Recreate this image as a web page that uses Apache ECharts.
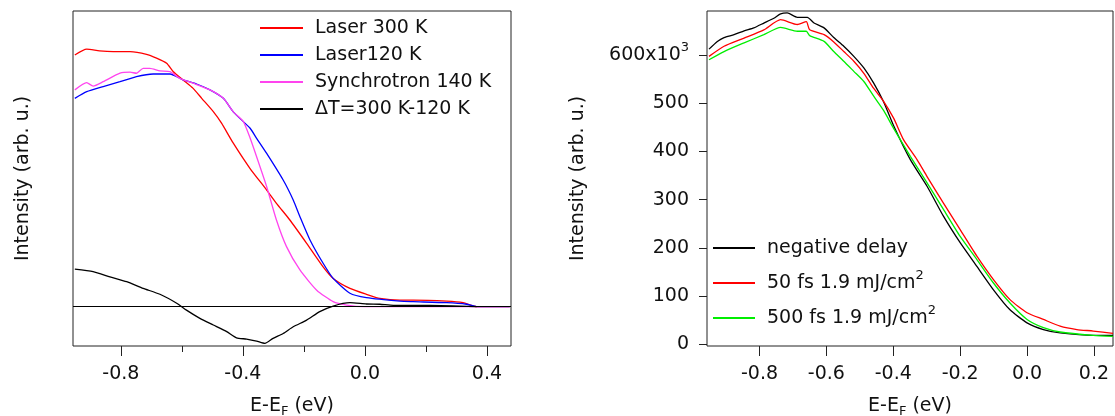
<!DOCTYPE html>
<html><head><meta charset="utf-8">
<script src="https://cdn.jsdelivr.net/npm/echarts@6/dist/echarts.min.js"></script>
<style>html,body{margin:0;padding:0;background:#fff}#c{width:1115px;height:416px}</style>
</head><body><div id="c"></div>
<script>
// ---------- Left panel data (E-EF in eV, intensity arb. u.) ----------
const laser300X = [-0.951,-0.912,-0.87,-0.825,-0.77,-0.716,-0.683,-0.65,-0.628,-0.596,-0.563,-0.535,-0.497,-0.47,-0.432,-0.377,-0.322,-0.29,-0.246,-0.191,-0.137,-0.104,-0.049,0.005,0.049,0.115,0.158,0.268,0.322,0.366,0.475];
const laser300Y = [98.2,100.5,99.8,99.5,99.5,98.5,97.0,95.0,91.7,88.5,85.2,81.3,76.1,71.6,63.9,54.0,45.5,40.3,33.8,24.7,15.5,11.0,7.1,4.8,3.2,2.5,2.5,2.1,1.5,0,0];
const laser120X = [-0.951,-0.912,-0.858,-0.803,-0.749,-0.694,-0.639,-0.596,-0.552,-0.508,-0.464,-0.43,-0.377,-0.355,-0.322,-0.268,-0.235,-0.213,-0.18,-0.137,-0.104,-0.049,0.005,0.115,0.158,0.268,0.333,0.366,0.475];
const laser120Y = [81.3,83.9,85.9,87.8,89.8,90.8,90.8,88.5,86.9,84.6,81.3,75.8,69.7,65.7,59.8,49.4,41.6,35.1,26.0,16.9,11.0,5.2,3.5,2.1,1.9,1.5,0.9,0,0];
const synchX = [-0.951,-0.912,-0.891,-0.858,-0.803,-0.77,-0.749,-0.727,-0.705,-0.672,-0.639,-0.607,-0.563,-0.508,-0.464,-0.432,-0.399,-0.377,-0.355,-0.322,-0.29,-0.257,-0.213,-0.158,-0.104,-0.06,0.0,0.475];
const synchY = [84.6,87.4,86.1,87.8,91.1,91.5,91.1,93.0,93.0,92.0,91.7,89.1,87.2,84.6,81.3,76.1,72.3,66.0,58.5,46.8,33.8,23.4,14.3,6.4,1.9,0.6,0,0];
const deltaX = [-0.951,-0.891,-0.836,-0.781,-0.727,-0.672,-0.617,-0.585,-0.541,-0.497,-0.453,-0.421,-0.388,-0.355,-0.328,-0.301,-0.268,-0.235,-0.191,-0.148,-0.104,-0.049,0.005,0.049,0.093,0.213,0.366];
const deltaY = [14.6,13.6,11.6,9.7,7.1,4.8,1.3,-1.4,-4.6,-7.2,-9.8,-12.2,-12.7,-13.5,-14.4,-12.4,-10.5,-7.9,-5.3,-2.0,0.2,1.5,1.0,0.9,0.5,0.5,0];

// ---------- Right panel data (intensity x10^3) ----------
const negX = [-0.951,-0.926,-0.906,-0.876,-0.846,-0.817,-0.787,-0.757,-0.737,-0.717,-0.687,-0.657,-0.637,-0.607,-0.578,-0.548,-0.518,-0.488,-0.459,-0.429,-0.4,-0.349,-0.299,-0.25,-0.2,-0.15,-0.101,-0.051,0,0.049,0.099,0.198,0.257];
const negY = [612,628,636,642,650,656,666,676,685,687,678,678,666,656,636,618,597,573,542,503,455,383,328,266,211,162,114,72,45,31,24,19,19];
const fs50X = [-0.951,-0.906,-0.846,-0.787,-0.737,-0.687,-0.66,-0.65,-0.607,-0.578,-0.548,-0.518,-0.488,-0.459,-0.429,-0.399,-0.369,-0.329,-0.299,-0.25,-0.2,-0.15,-0.101,-0.051,0,0.049,0.099,0.149,0.198,0.257];
const fs50Y = [597,618,635,652,673,663,669,652,642,627,607,587,562,531,504,469,424,383,348,293,238,183,135,93,66,52,38,31,28,23];
const fs500X = [-0.951,-0.906,-0.846,-0.787,-0.737,-0.687,-0.66,-0.65,-0.607,-0.578,-0.548,-0.518,-0.488,-0.459,-0.429,-0.399,-0.349,-0.299,-0.25,-0.2,-0.15,-0.101,-0.051,0,0.049,0.099,0.198,0.257];
const fs500Y = [590,607,625,642,657,649,649,640,628,607,587,566,545,515,485,448,390,335,280,224,176,128,86,52,35,26,19,17];

// ---------- Axis ticks ----------
const leftMajorTicks = [-0.8,-0.4,0.0,0.4];
const leftMinorTicks = [-0.6,-0.2,0.2];
const rightXTicks = [-0.8,-0.6,-0.4,-0.2,0.0,0.2];
const rightYTicks = [0,100,200,300,400,500,600];

const names = ['Laser 300 K','Laser120 K','Synchrotron 140 K','\u0394T=300 K-120 K'];
const names2 = ['negative delay','50 fs 1.9 mJ/cm\u00b2','500 fs 1.9 mJ/cm\u00b2'];

const FONT = 'DejaVu Sans';
const TXT = '#111';
const FS = 19;
function zip(xs, ys){ return xs.map((x,i)=>[x, ys[i]]); }
const chart = echarts.init(document.getElementById('c'));

function lineSeries(name, xs, ys, color, xi){
  return {name, type:'line', xAxisIndex:xi, yAxisIndex:xi, data:zip(xs,ys), showSymbol:false, smooth:0.2,
    color, lineStyle:{color, width:1.3}, animation:false, z:3};
}
const xName = {fontSize:FS, fontFamily:FONT, color:TXT, rich:{sub:{fontSize:13, fontFamily:FONT, color:TXT, padding:[10,0,0,0]}}};
const yName = {fontSize:FS, fontFamily:FONT, color:TXT};
const tickStyle = {color:'#222', width:1};
const noLine = {show:false, onZero:false};

const delta = lineSeries(names[3], deltaX, deltaY, '#000', 0);
delta.markLine = {silent:true, symbol:['none','none'], label:{show:false}, animation:false,
  lineStyle:{color:'#000', width:1, type:'solid'}, data:[{yAxis:0}]};

const gridBase = {containLabel:false, outerBoundsMode:'none'};
chart.setOption({
  animation:false,
  backgroundColor:'#fff',
  grid:[
    Object.assign({left:73, top:11, width:438, height:335, show:true, borderColor:'#222', borderWidth:1, backgroundColor:'transparent'}, gridBase),
    Object.assign({left:707, top:11, width:406, height:335, show:true, borderColor:'#222', borderWidth:1, backgroundColor:'transparent'}, gridBase),
    Object.assign({left:73, top:11, width:438, height:335}, gridBase)
  ],
  xAxis:[
    {gridIndex:0, type:'value', min:-0.957, max:0.479, axisLine:noLine, splitLine:{show:false},
     axisTick:{show:true, length:10, customValues:leftMajorTicks, lineStyle:tickStyle},
     axisLabel:{customValues:leftMajorTicks, formatter:v=>v.toFixed(1), margin:19, fontSize:FS, fontFamily:FONT, color:TXT},
     name:'E-E{sub|F} (eV)', nameLocation:'middle', nameGap:49, nameTextStyle:xName},
    {gridIndex:1, type:'value', min:-0.957, max:0.257, axisLine:noLine, splitLine:{show:false},
     axisTick:{show:true, length:10, customValues:rightXTicks, lineStyle:tickStyle},
     axisLabel:{customValues:rightXTicks, formatter:v=>v.toFixed(1), margin:19, fontSize:FS, fontFamily:FONT, color:TXT},
     name:'E-E{sub|F} (eV)', nameLocation:'middle', nameGap:49, nameTextStyle:xName},
    {gridIndex:2, type:'value', min:-0.957, max:0.479, axisLine:noLine, splitLine:{show:false},
     axisTick:{show:true, length:6, customValues:leftMinorTicks, lineStyle:tickStyle},
     axisLabel:{show:false}}
  ],
  yAxis:[
    {gridIndex:0, type:'value', min:-15.4, max:115.4, axisLine:noLine, splitLine:{show:false},
     axisTick:{show:false}, axisLabel:{show:false},
     name:'Intensity (arb. u.)', nameLocation:'middle', nameGap:40, nameTextStyle:yName},
    {gridIndex:1, type:'value', min:-3, max:691, axisLine:noLine, splitLine:{show:false},
     axisTick:{show:true, length:8, customValues:rightYTicks, lineStyle:tickStyle},
     axisLabel:{customValues:rightYTicks, margin:18, fontSize:FS, fontFamily:FONT, color:TXT,
       formatter:v=> v===600 ? '600x10{sup|3}' : String(v),
       rich:{sup:{fontSize:13, fontFamily:FONT, color:TXT, padding:[0,0,14,0]}}},
     name:'Intensity (arb. u.)', nameLocation:'middle', nameGap:119, nameTextStyle:yName},
    {gridIndex:2, type:'value', show:false, min:0, max:1, axisLine:noLine}
  ],
  legend:[
    {data:names, left:260, top:14.5, orient:'vertical', padding:0, itemGap:0, itemWidth:43, itemHeight:2, icon:'rect',
     selectedMode:false, textStyle:{fontSize:FS, fontFamily:FONT, color:TXT, lineHeight:27, padding:[0,0,0,7]}},
    {data:names2, left:713, top:230.5, orient:'vertical', padding:0, itemGap:0, itemWidth:42, itemHeight:2, icon:'rect',
     selectedMode:false, formatter:n=>n.replace('\u00b2','{sup|2}'),
     textStyle:{fontSize:FS, fontFamily:FONT, color:TXT, lineHeight:35,  padding:[0,0,0,7],
       rich:{sup:{fontSize:13, fontFamily:FONT, color:TXT, padding:[0,0,14,0]}}}}
  ],
  series:[
    lineSeries(names[0], laser300X, laser300Y, '#ff0000', 0),
    lineSeries(names[1], laser120X, laser120Y, '#0000ff', 0),
    lineSeries(names[2], synchX, synchY, '#ff44ee', 0),
    delta,
    lineSeries(names2[0], negX, negY, '#000000', 1),
    lineSeries(names2[1], fs50X, fs50Y, '#ff0000', 1),
    lineSeries(names2[2], fs500X, fs500Y, '#00ee00', 1)
  ]
});
</script>
</body></html>
